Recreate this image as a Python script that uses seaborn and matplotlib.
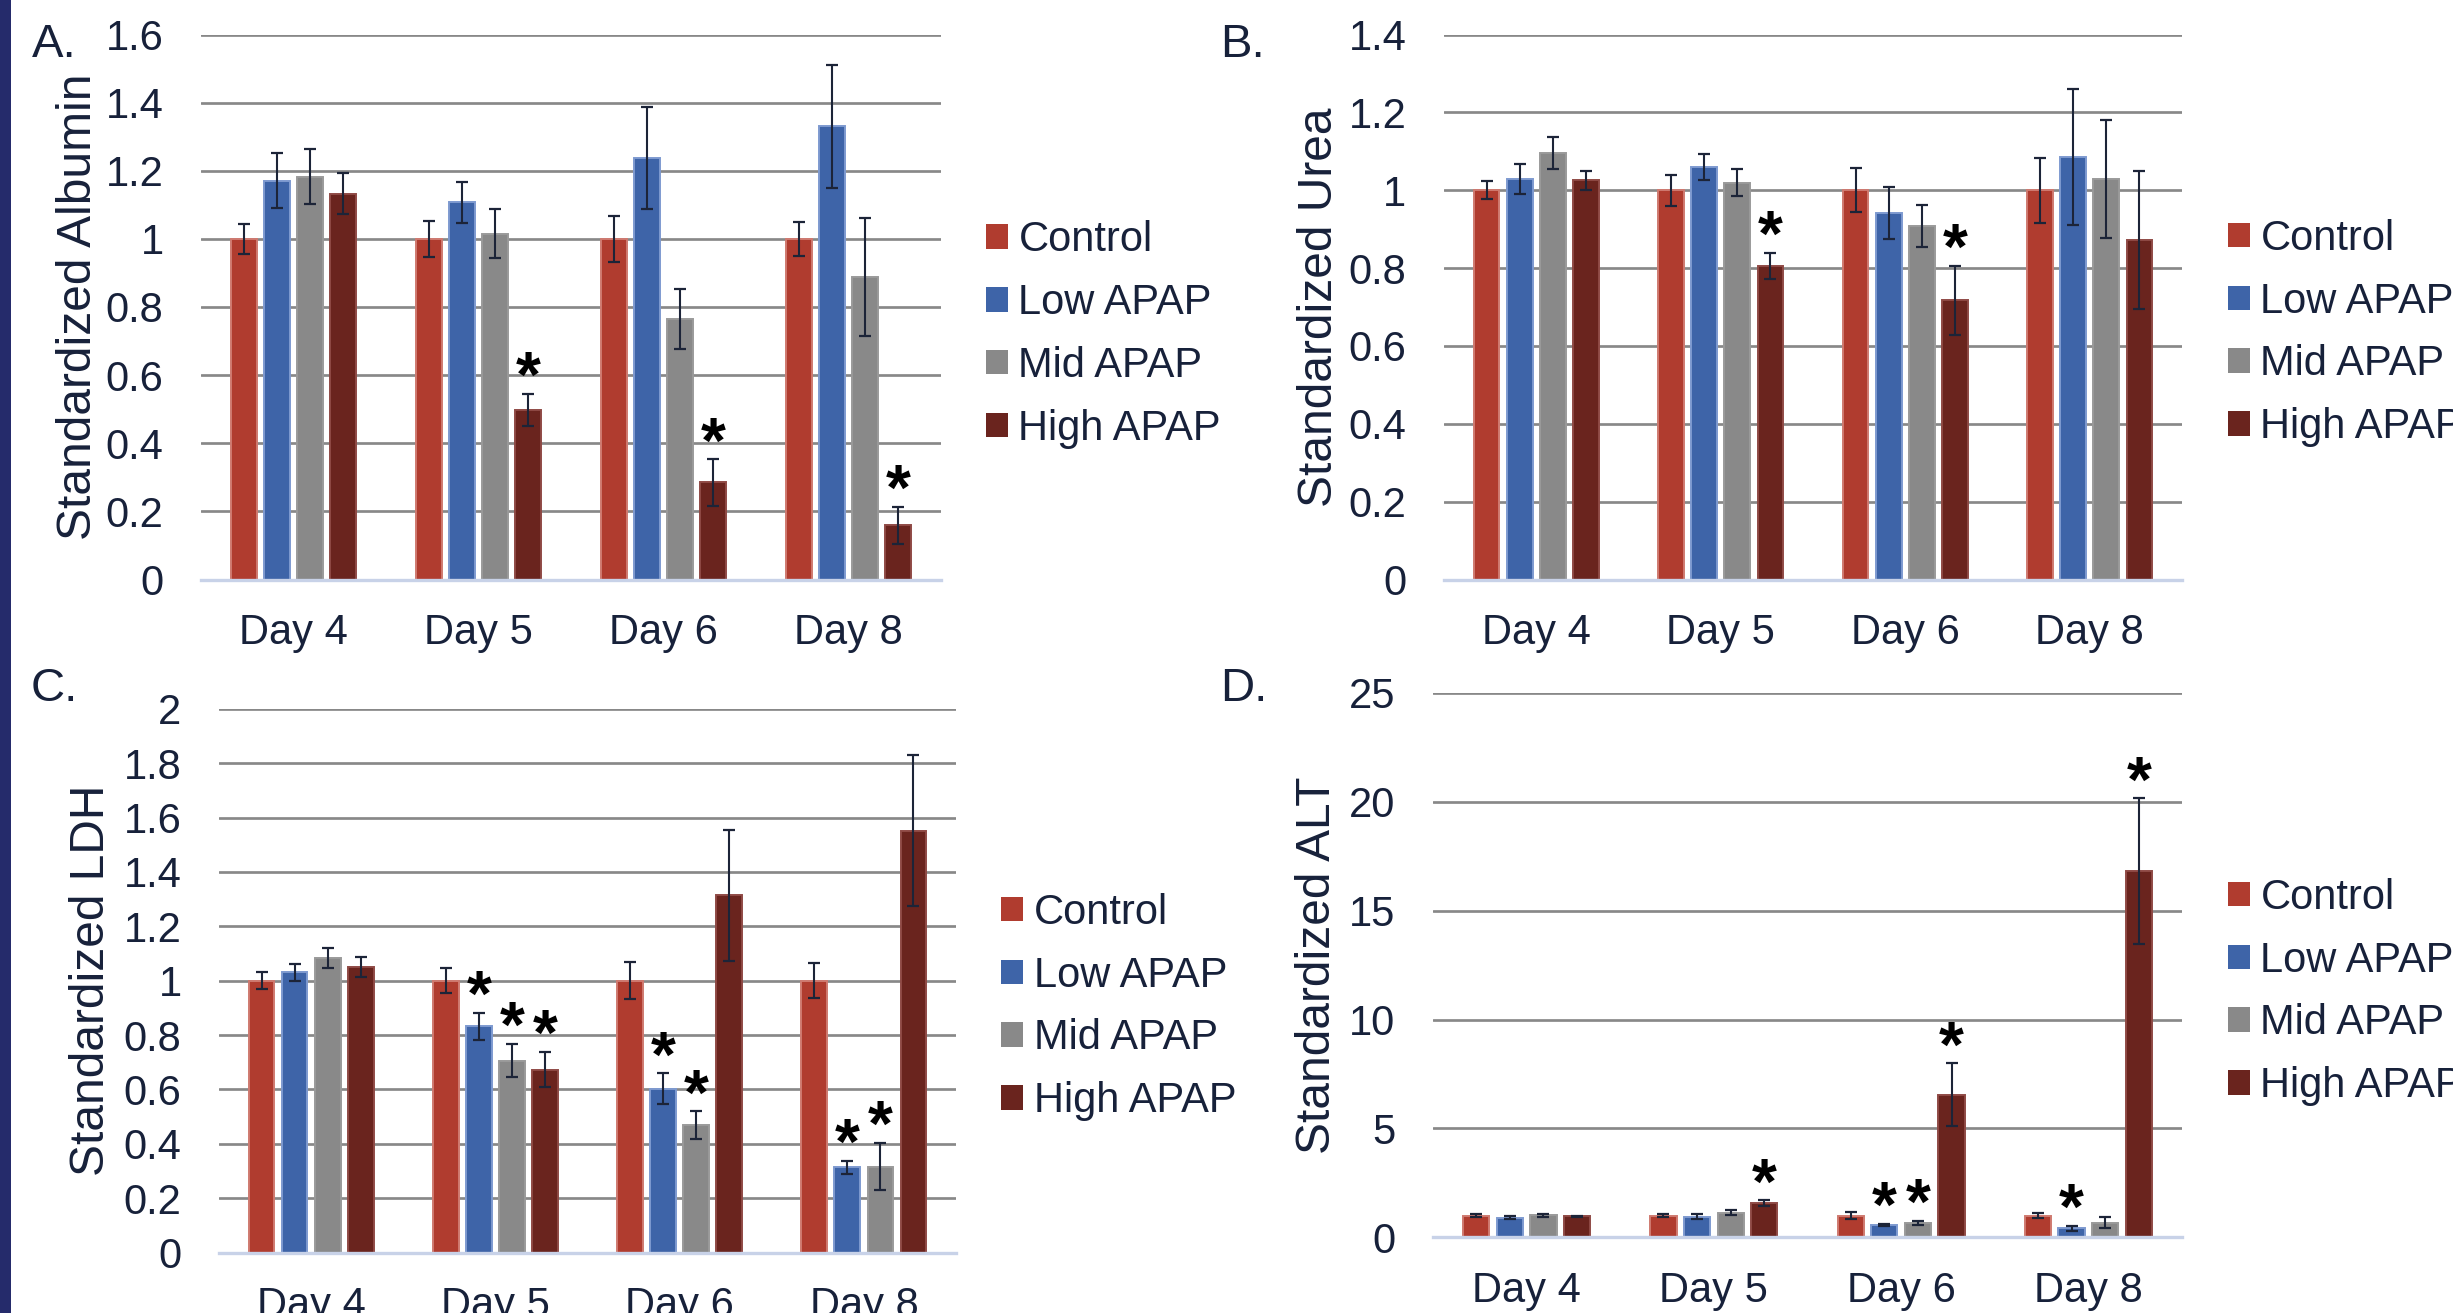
import numpy as np
import pandas as pd
import matplotlib
matplotlib.use("Agg")
import matplotlib.pyplot as plt
from matplotlib.patches import Patch, Rectangle
from matplotlib.container import BarContainer
import seaborn as sns

# ---------------- data ----------------
DAYS = ["Day 4", "Day 5", "Day 6", "Day 8"]
GROUPS = ["Control", "Low APAP", "Mid APAP", "High APAP"]

# A. Albumin
albumin_control = [1.00, 1.00, 1.00, 1.00]
albumin_low = [1.171, 1.107, 1.238, 1.330]
albumin_mid = [1.183, 1.015, 0.765, 0.888]
albumin_high = [1.133, 0.498, 0.285, 0.159]
albumin_control_err = [0.045, 0.053, 0.067, 0.051]
albumin_low_err = [0.080, 0.060, 0.149, 0.181]
albumin_mid_err = [0.080, 0.072, 0.087, 0.172]
albumin_high_err = [0.060, 0.047, 0.068, 0.054]
albumin_stars = [("High APAP", "Day 5"), ("High APAP", "Day 6"), ("High APAP", "Day 8")]

# B. Urea
urea_control = [1.00, 1.00, 1.00, 1.00]
urea_low = [1.029, 1.060, 0.942, 1.085]
urea_mid = [1.096, 1.019, 0.908, 1.028]
urea_high = [1.025, 0.806, 0.717, 0.873]
urea_control_err = [0.023, 0.040, 0.056, 0.083]
urea_low_err = [0.038, 0.034, 0.067, 0.175]
urea_mid_err = [0.041, 0.035, 0.055, 0.152]
urea_high_err = [0.025, 0.034, 0.089, 0.177]
urea_stars = [("High APAP", "Day 5"), ("High APAP", "Day 6")]

# C. LDH
ldh_control = [1.00, 1.00, 1.00, 1.00]
ldh_low = [1.030, 0.832, 0.603, 0.313]
ldh_mid = [1.084, 0.706, 0.468, 0.316]
ldh_high = [1.051, 0.673, 1.314, 1.552]
ldh_control_err = [0.031, 0.047, 0.068, 0.064]
ldh_low_err = [0.032, 0.050, 0.056, 0.024]
ldh_mid_err = [0.037, 0.062, 0.051, 0.087]
ldh_high_err = [0.036, 0.065, 0.240, 0.277]
ldh_stars = [("Low APAP", "Day 5"), ("Mid APAP", "Day 5"), ("High APAP", "Day 5"),
             ("Low APAP", "Day 6"), ("Mid APAP", "Day 6"),
             ("Low APAP", "Day 8"), ("Mid APAP", "Day 8")]

# D. ALT
alt_control = [1.00, 1.00, 1.00, 1.00]
alt_low = [0.90, 0.95, 0.56, 0.41]
alt_mid = [1.02, 1.13, 0.66, 0.66]
alt_high = [0.96, 1.56, 6.55, 16.82]
alt_control_err = [0.05, 0.07, 0.15, 0.10]
alt_low_err = [0.08, 0.10, 0.06, 0.13]
alt_mid_err = [0.07, 0.12, 0.10, 0.25]
alt_high_err = [0.04, 0.14, 1.44, 3.34]
alt_stars = [("High APAP", "Day 5"), ("Low APAP", "Day 6"), ("Mid APAP", "Day 6"),
             ("High APAP", "Day 6"), ("Low APAP", "Day 8"), ("High APAP", "Day 8")]

# ---------------- style ----------------
COLORS = ["#b03c2f", "#3e64a8", "#898989", "#6a241e"]
EDGES = ["#cf7a70", "#7e9ad0", "#9a9a9a", "#8f4a45"]
TEXT = "#17213a"
GRID = "#888888"
AXLINE = "#c8d2e8"
ERRC = "#1c2438"

sns.set_style("white")
plt.rcParams["font.family"] = ["Liberation Sans", "DejaVu Sans"]

W, H = 2453, 1313
fig = plt.figure(figsize=(W / 100, H / 100), dpi=100)

panels = [
    dict(letter="A.", ylabel="Standardized Albumin", ymax=1.6, step=0.2,
         vals=[albumin_control, albumin_low, albumin_mid, albumin_high],
         errs=[albumin_control_err, albumin_low_err, albumin_mid_err, albumin_high_err],
         stars=albumin_stars,
         rect=[201, 34.5, 941, 579.5], letter_xy=(32, 56.7), ylab_x=101,
         leg=(986, 334.5)),
    dict(letter="B.", ylabel="Standardized Urea", ymax=1.4, step=0.2,
         vals=[urea_control, urea_low, urea_mid, urea_high],
         errs=[urea_control_err, urea_low_err, urea_mid_err, urea_high_err],
         stars=urea_stars,
         rect=[1444, 34.5, 2182, 579.5], letter_xy=(1220, 56.7), ylab_x=1342,
         leg=(2228, 333)),
    dict(letter="C.", ylabel="Standardized LDH", ymax=2.0, step=0.2,
         vals=[ldh_control, ldh_low, ldh_mid, ldh_high],
         errs=[ldh_control_err, ldh_low_err, ldh_mid_err, ldh_high_err],
         stars=ldh_stars,
         rect=[219, 708.8, 956, 1252.5], letter_xy=(31, 700.7), ylab_x=114,
         leg=(1001, 1007)),
    dict(letter="D.", ylabel="Standardized ALT", ymax=25, step=5,
         vals=[alt_control, alt_low, alt_mid, alt_high],
         errs=[alt_control_err, alt_low_err, alt_mid_err, alt_high_err],
         stars=alt_stars,
         rect=[1433, 693, 2182, 1237.3], letter_xy=(1220, 700.7), ylab_x=1340,
         leg=(2228, 992)),
]

for p in panels:
    x0, ytop, x1, ybot = p["rect"]
    ax = fig.add_axes([x0 / W, 1 - ybot / H, (x1 - x0) / W, (ybot - ytop) / H])

    rows = []
    for g, series in zip(GROUPS, p["vals"]):
        for d, v in zip(DAYS, series):
            rows.append({"day": d, "group": g, "value": v})
    df = pd.DataFrame(rows)

    sns.barplot(data=df, x="day", y="value", hue="group", order=DAYS,
                hue_order=GROUPS, palette=COLORS, saturation=1,
                width=0.718, gap=0.22, errorbar=None, legend=False,
                linewidth=1.4, ax=ax, zorder=2)

    bar_conts = [c for c in ax.containers if isinstance(c, BarContainer)]
    star_set = set(p["stars"])
    for gi, cont in enumerate(bar_conts):
        for di, bar in enumerate(cont.patches):
            bar.set_edgecolor(EDGES[gi])
            xc = bar.get_x() + bar.get_width() / 2
            yv = bar.get_height()
            e = p["errs"][gi][di]
            ax.errorbar([xc], [yv], yerr=[e], fmt="none", ecolor=ERRC,
                        elinewidth=1.5, capsize=4.2, capthick=1.6, zorder=3)
            if (GROUPS[gi], DAYS[di]) in star_set:
                ax.annotate("*", xy=(xc, yv + e), xytext=(0, 10),
                            textcoords="offset points", ha="center",
                            va="center", fontsize=46, fontweight="bold",
                            color="black", zorder=4)

    ax.set_xlim(-0.5, 3.5)
    ax.set_ylim(0, p["ymax"])
    ticks = np.arange(0, p["ymax"] + p["step"] / 2, p["step"])
    ax.set_yticks(ticks)
    ax.set_yticklabels([f"{t:.10g}" for t in np.round(ticks, 6)])
    ax.yaxis.grid(True, color=GRID, linewidth=1.95)
    ax.xaxis.grid(False)
    ax.set_axisbelow(True)
    for s in ["top", "right", "left"]:
        ax.spines[s].set_visible(False)
    ax.spines["bottom"].set_color(AXLINE)
    ax.spines["bottom"].set_linewidth(2.4)
    ax.spines["bottom"].set_zorder(5)
    ax.tick_params(axis="y", length=0, pad=27, labelsize=30, labelcolor=TEXT)
    ax.tick_params(axis="x", length=0, pad=24, labelsize=30, labelcolor=TEXT)
    ax.set_xlabel("")
    ax.set_ylabel(p["ylabel"], fontsize=34.5, color=TEXT)
    ax.yaxis.set_label_coords((p["ylab_x"] - x0) / (x1 - x0), 0.5)

    handles = [Patch(facecolor=c, edgecolor="none") for c in COLORS]
    lx, ly = p["leg"]
    ax.legend(handles, GROUPS, loc="center left",
              bbox_to_anchor=(lx / W, 1 - ly / H), bbox_transform=fig.transFigure,
              frameon=False, fontsize=30, labelcolor=TEXT, borderpad=0,
              borderaxespad=0, handlelength=0.53, handleheight=0.53,
              handletextpad=0.25, labelspacing=0.55)

    lx_, ly_ = p["letter_xy"]
    fig.text(lx_ / W, 1 - ly_ / H, p["letter"], fontsize=34, color=TEXT,
             ha="left", va="baseline")

fig.add_artist(Rectangle((0, 0), 11 / W, 1, transform=fig.transFigure,
                         facecolor="#252b6b", edgecolor="none"))

fig.savefig("out.png", dpi=100)
